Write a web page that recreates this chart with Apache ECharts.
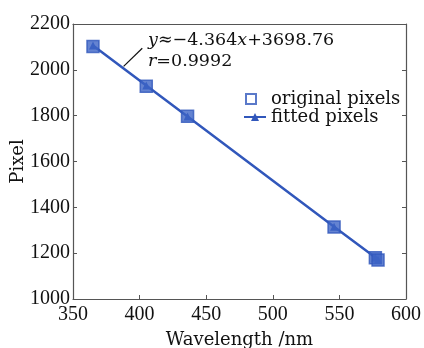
<!DOCTYPE html>
<html>
<head>
<meta charset="utf-8">
<script src="https://cdn.jsdelivr.net/npm/echarts@6/dist/echarts.min.js"></script>
<style>
  html, body { margin: 0; padding: 0; background: #fff; }
  #chart { width: 424px; height: 348px; }
</style>
</head>
<body>
<div id="chart"></div>
<script>
// wavelength (nm) of the calibration lines
const wavelengths = [365, 405, 436, 546, 577, 579];
// measured pixel positions
const originalPixels = [2102, 1928, 1797, 1314, 1180, 1170];
// pixel positions on the fitted line
const fittedPixels = [2106, 1932, 1796, 1315, 1181, 1172];

const xTicks = [350, 400, 450, 500, 550, 600];
const yTicks = [1000, 1200, 1400, 1600, 1800, 2000, 2200];

const blue = '#3157bb';
const frame = '#555';
const font = 'DejaVu Serif';
const numFont = 'Liberation Serif';

const chart = echarts.init(document.getElementById('chart'), null, { renderer: 'canvas' });

const axisCommon = {
  axisLine: { show: true, lineStyle: { color: frame, width: 1.2 } },
  axisTick: { show: true, inside: true, length: 4, lineStyle: { color: frame } },
  splitLine: { show: false }
};

chart.setOption({
  backgroundColor: '#fff',
  animation: false,
  grid: { left: 73, right: 18, top: 24, bottom: 49, outerBoundsMode: 'none', containLabel: false },
  xAxis: [
    Object.assign({
      type: 'value',
      min: xTicks[0], max: xTicks[xTicks.length - 1], interval: 50,
      name: 'Wavelength /nm', nameLocation: 'middle', nameGap: 32, nameMoveOverlap: false,
      nameTextStyle: { fontFamily: font, fontSize: 18, color: '#111' },
      axisLabel: { fontFamily: numFont, fontSize: 20, color: '#111', margin: 6,
        formatter: v => String(v) }
    }, axisCommon),
    Object.assign({
      type: 'value', position: 'top',
      min: xTicks[0], max: xTicks[xTicks.length - 1], interval: 50,
      axisLabel: { show: false }
    }, axisCommon, { axisTick: { show: false } })
  ],
  yAxis: [
    Object.assign({
      type: 'value',
      min: yTicks[0], max: yTicks[yTicks.length - 1], interval: 200,
      name: 'Pixel', nameLocation: 'middle', nameGap: 46, nameMoveOverlap: false,
      nameTextStyle: { fontFamily: font, fontSize: 18, color: '#111' },
      axisLabel: { fontFamily: numFont, fontSize: 20, color: '#111', margin: 3,
        formatter: v => String(v) }
    }, axisCommon),
    Object.assign({
      type: 'value', position: 'right',
      min: yTicks[0], max: yTicks[yTicks.length - 1], interval: 200,
      axisLabel: { show: false }
    }, axisCommon)
  ],
  legend: [
    {
      orient: 'vertical',
      left: 240, top: 85,
      itemWidth: 10, itemHeight: 10,
      textStyle: { fontFamily: font, fontSize: 18, color: '#111', padding: [0, 0, 0, 10] },
      data: [
        { name: 'original pixels', icon: 'rect',
          itemStyle: { color: '#fff', borderColor: blue, borderWidth: 2 } }
      ]
    },
    {
      orient: 'vertical',
      left: 238, top: 103,
      itemWidth: 22, itemHeight: 10,
      textStyle: { fontFamily: font, fontSize: 18, color: '#111' },
      data: [{ name: 'fitted pixels' }]
    }
  ],
  series: [
    {
      name: 'fitted pixels',
      type: 'line',
      z: 2,
      data: wavelengths.map((w, i) => [w, fittedPixels[i]]),
      symbol: 'triangle', symbolSize: 8,
      lineStyle: { color: blue, width: 2.5 },
      itemStyle: { color: blue },
      markLine: {
        silent: true,
        symbol: ['none', 'arrow'], symbolSize: [0, 9],
        label: { show: false },
        lineStyle: { color: '#111', width: 1.2, type: 'solid' },
        data: [[{ coord: [402, 2094] }, { coord: [388, 2015] }]]
      }
    },
    {
      name: 'original pixels',
      type: 'scatter',
      z: 3,
      data: wavelengths.map((w, i) => [w, originalPixels[i]]),
      symbol: 'rect', symbolSize: 12,
      itemStyle: { color: '#3d64c6', borderColor: blue, borderWidth: 1.5 }
    }
  ],
  graphic: [
    {
      type: 'text', left: 148, top: 30,
      style: {
        text: '{i|y}≈−4.364{i|x}+3698.76\n{i|r}=0.9992',
        font: '17.5px "DejaVu Serif"', fill: '#111', lineHeight: 21,
        rich: { i: { fontFamily: font, fontSize: 17.5, fontStyle: 'italic', fill: '#111' } }
      }
    }
  ]
});
</script>
</body>
</html>
